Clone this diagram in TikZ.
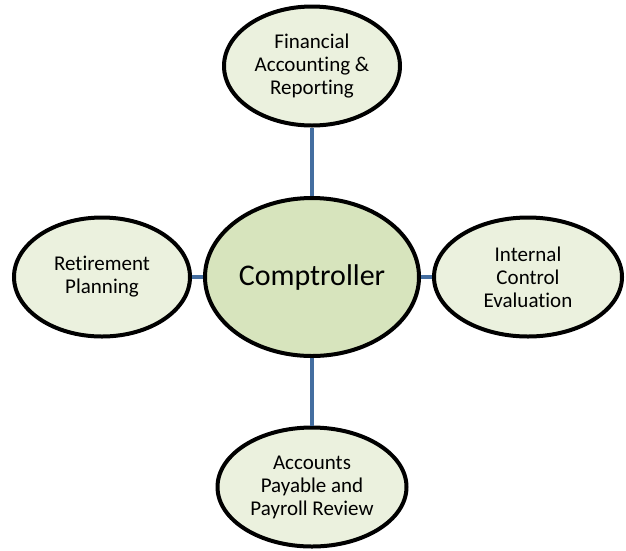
\documentclass[tikz,border=0pt]{standalone}
\usepackage{fontspec}
\setmainfont{Carlito}[Ligatures=NoCommon]
\usetikzlibrary{shapes.geometric}
\definecolor{linkblue}{RGB}{68, 110, 160}
\definecolor{hubgreen}{RGB}{215, 228, 189}
\definecolor{leafgreen}{RGB}{235, 241, 222}

\tikzset{
  leaf/.style={draw, ellipse, line width=4pt, fill=leafgreen, inner sep=0pt,
    minimum width=176pt, minimum height=119pt, align=center,
    font=\fontsize{21}{23}\selectfont},
  hub/.style={draw, ellipse, line width=4pt, fill=hubgreen, inner sep=0pt,
    minimum width=214pt, minimum height=158pt, font=\fontsize{30}{34}\selectfont},
  link/.style={linkblue, line width=4pt}
}

\begin{document}
\begin{tikzpicture}[x=1pt, y=-1pt]
  \useasboundingbox (0,0) rectangle (626,550);
  \node[hub] (C) at (312,277) {Comptroller};
  \node[leaf] (F) at (312,66) {Financial\\Accounting \&\\Reporting};
  \node[leaf] (R) at (102,277) {Retirement\\Planning};
  \node[leaf, minimum width=188pt] (I) at (528,277) {Internal\\Control\\Evaluation};
  \node[leaf, minimum width=189pt] (P) at (312,487) {Accounts\\Payable and\\Payroll Review};
  % spokes from the hub
  \draw[link] (C) -- (F);
  \draw[link] (C) -- (R);
  \draw[link] (C) -- (I);
  \draw[link] (C) -- (P);
\end{tikzpicture}
\end{document}
